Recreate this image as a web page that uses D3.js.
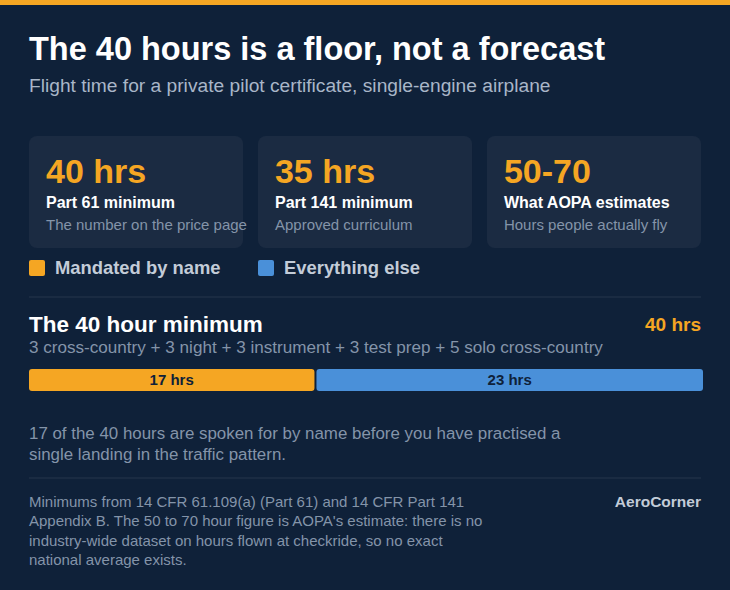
<!DOCTYPE html>
<html><head><meta charset="utf-8">
<script src="https://cdn.jsdelivr.net/npm/d3@7"></script>
<style>body{margin:0;background:#0f2139}svg{display:block}</style></head>
<body><svg id="c" width="730" height="590"></svg>
<script>
const cardValues=["40 hrs","35 hrs","50-70"];
const cardLabels=["Part 61 minimum","Part 141 minimum","What AOPA estimates"];
const cardSubs=["The number on the price page","Approved curriculum","Hours people actually fly"];
const segNames=["Mandated by name","Everything else"];
const segHours=[17,23];
const colors=["#f5a623","#4a90d9"];
const F="'Liberation Sans', Arial, Helvetica, sans-serif";
const svg=d3.select("#c").style("font-family",F);
svg.append("rect").attr("width",730).attr("height",590).attr("fill","#0f2139");
svg.append("rect").attr("width",730).attr("height",5).attr("fill","#f5a623");
svg.append("text").attr("x",29).attr("y",60).attr("fill","#fff").attr("font-size",32.5).attr("font-weight","bold").text("The 40 hours is a floor, not a forecast");
svg.append("text").attr("x",29).attr("y",92).attr("fill","#a9b6c8").attr("font-size",19.2).text("Flight time for a private pilot certificate, single-engine airplane");
const cx=d3.scaleBand().domain(d3.range(3)).range([29,701]).paddingInner(0.065).paddingOuter(0);
const cg=svg.selectAll("g.card").data(cardValues).join("g").attr("transform",(d,i)=>`translate(${cx(i)},136)`);
cg.append("rect").attr("width",cx.bandwidth()).attr("height",112).attr("rx",8).attr("fill","#1b2b42");
cg.append("text").attr("x",17).attr("y",47).attr("fill","#f5a623").attr("font-size",34).attr("font-weight","bold").text(d=>d);
cg.append("text").attr("x",17).attr("y",72).attr("fill","#fff").attr("font-size",16).attr("font-weight","bold").text((d,i)=>cardLabels[i]);
cg.append("text").attr("x",17).attr("y",94).attr("fill","#8494a9").attr("font-size",15).text((d,i)=>cardSubs[i]);
const lx=[29,258];
segNames.forEach((n,i)=>{
  svg.append("rect").attr("x",lx[i]).attr("y",260).attr("width",16).attr("height",16).attr("rx",2).attr("fill",colors[i]);
  svg.append("text").attr("x",lx[i]+26).attr("y",274).attr("fill","#c3ccd8").attr("font-size",18.4).attr("font-weight","bold").text(n);
});
svg.append("line").attr("x1",29).attr("x2",701).attr("y1",297).attr("y2",297).attr("stroke","#26364c");
svg.append("text").attr("x",29).attr("y",332).attr("fill","#fff").attr("font-size",22.5).attr("font-weight","bold").text("The 40 hour minimum");
svg.append("text").attr("x",701).attr("y",331).attr("text-anchor","end").attr("fill","#f5a623").attr("font-size",19).attr("font-weight","bold").text("40 hrs");
svg.append("text").attr("x",29).attr("y",353).attr("fill","#8494a9").attr("font-size",17.1).text("3 cross-country + 3 night + 3 instrument + 3 test prep + 5 solo cross-country");
const total=d3.sum(segHours);
const x=d3.scaleLinear().domain([0,total]).range([29,703]);
let acc=0;const segs=segHours.map(h=>{const s={a:acc,b:acc+h,h};acc+=h;return s;});
segs.forEach((s,i)=>{
  const x0=x(s.a)+(i?1:0), x1=x(s.b)-(i?0:1);
  svg.append("rect").attr("x",x0).attr("y",369).attr("width",x1-x0).attr("height",22).attr("rx",3).attr("fill",colors[i]);
  svg.append("text").attr("x",(x0+x1)/2).attr("y",385).attr("text-anchor","middle").attr("fill","#0f2139").attr("font-size",15).attr("font-weight","bold").text(s.h+" hrs");
});
["17 of the 40 hours are spoken for by name before you have practised a","single landing in the traffic pattern."].forEach((t,i)=>
  svg.append("text").attr("x",29).attr("y",439+i*21).attr("fill","#8494a9").attr("font-size",16.9).text(t));
svg.append("line").attr("x1",29).attr("x2",701).attr("y1",478).attr("y2",478).attr("stroke","#26364c");
["Minimums from 14 CFR 61.109(a) (Part 61) and 14 CFR Part 141","Appendix B. The 50 to 70 hour figure is AOPA's estimate: there is no","industry-wide dataset on hours flown at checkride, so no exact","national average exists."].forEach((t,i)=>
  svg.append("text").attr("x",29).attr("y",507+i*19.3).attr("fill","#8494a9").attr("font-size",15).text(t));
svg.append("text").attr("x",701).attr("y",507).attr("text-anchor","end").attr("fill","#c3ccd8").attr("font-size",15.5).attr("font-weight","bold").text("AeroCorner");
</script></body></html>
